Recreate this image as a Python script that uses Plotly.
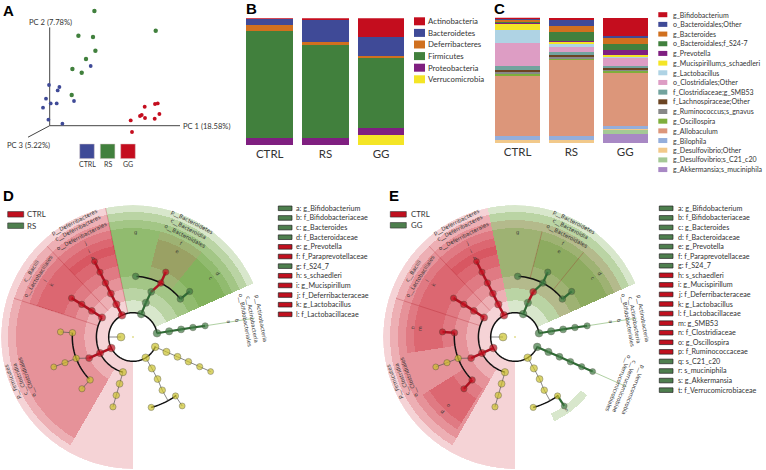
import numpy as np
import plotly.graph_objects as go

W, H = 766, 470
FONT = "Lato"
TREE_FONT = "DejaVu Sans"

# ---- panel A: PCoA scores
pc_labels = ["CTRL", "RS", "GG"]
ctrl_pc1 = [41, -0.7, 9.7, 8, -3.7, 24.3, 7, 1, -6.7, -1.3, 12.7]
ctrl_pc2 = [59.7, 40.7, 38.7, 35.3, 27, 24.7, 22.3, 22.3, 18, 6, 2]
rs_pc1 = [44.7, 106, 28.7, 43.3, 45.7, 36.3, 22.7, 32, 22]
rs_pc2 = [114.7, 95, 90, 88.7, 75, 66.7, 56.7, 53, 30.7]
gg_pc1 = [95, 105.3, 108, 109.7, 92, 90.3, 95.3, 105, 81, 82.3]
gg_pc2 = [19, 21.7, 22.3, 11.7, 10.7, 9.7, 7.7, 7, 5.3, -6.3]
pc1_x = [0, 130.3]
pc1_y = [0, 0]
pc2_x = [0, 0]
pc2_y = [0, 98.3]
pc3_x = [0, -21.7]
pc3_y = [0, -11.5]

# ---- panel B: phyla, %
groups = ["CTRL", "RS", "GG"]
b_names = ["Actinobacteria", "Bacteroidetes", "Deferribacteres", "Firmicutes", "Proteobacteria", "Verrucomicrobia"]
b_colors = ["#c40d1e", "#3f4a97", "#d0701f", "#41803d", "#7f1f80", "#f4e526"]
b_actino = [0.3, 1.3, 15]
b_bacteroidetes = [4.7, 17.4, 14.5]
b_deferri = [5, 2.4, 1.8]
b_firmicutes = [84.5, 73.4, 55]
b_proteo = [5.5, 5.5, 5.5]
b_verruco = [0, 0, 8.2]
b_values = [b_actino, b_bacteroidetes, b_deferri, b_firmicutes, b_proteo, b_verruco]

# ---- panel C: genera, %
c_names = ["g_Bifidobacterium", "o_Bacteroidales;Other", "g_Bacteroides", "o_Bacteroidales;f_S24-7",
           "g_Prevotella", "g_Mucispirillum;s_schaedleri", "g_Lactobacillus", "o_Clostridiales;Other",
           "f_Clostridiaceae;g_SMB53", "f_Lachnospiraceae;Other", "g_Ruminococcus;s_gnavus", "g_Oscillospira",
           "g_Allobaculum", "g_Bilophila", "g_Desulfovibrio;Other", "g_Desulfovibrio;s_C21_c20",
           "g_Akkermansia;s_muciniphila"]
c_colors = ["#c40d1e", "#3f4a97", "#d0701f", "#41803d", "#7f1f80", "#f4e526", "#afd3e4", "#dd9dc4", "#72a39e",
            "#6b4423", "#888888", "#7fae3c", "#dc967a", "#94aedb", "#f2c98a", "#a4c995", "#a888c4"]
c_bifido = [0.3, 1.1, 14.9]
c_bact_other = [1.9, 5.8, 0.3]
c_bacteroides = [0.8, 4.2, 5.6]
c_s24 = [0.5, 7.2, 5.3]
c_prevotella = [1.1, 0.3, 3.2]
c_mucispirillum = [5.6, 2.7, 1]
c_lactobacillus = [9.8, 1.3, 1.6]
c_clost_other = [18.3, 4.5, 6.6]
c_smb53 = [3.4, 2.7, 0.8]
c_lachno = [1.9, 1.9, 2.1]
c_gnavus = [0.5, 0.5, 0.8]
c_oscillospira = [2.7, 1.1, 1.1]
c_allobaculum = [47.5, 61, 42.7]
c_bilophila = [3.4, 2.9, 2.4]
c_desulf_other = [2.4, 2.9, 0.5]
c_c21 = [0, 0, 3.4]
c_akkermansia = [0, 0, 7.7]
c_values = [c_bifido, c_bact_other, c_bacteroides, c_s24, c_prevotella, c_mucispirillum, c_lactobacillus,
            c_clost_other, c_smb53, c_lachno, c_gnavus, c_oscillospira, c_allobaculum, c_bilophila,
            c_desulf_other, c_c21, c_akkermansia]

# ---- panels D, E: cladogram branches as (radius, angle)
root_branch = [(12, 180)]
deferri_branch = [(24.3, 117), (36.6, 117), (48.7, 117), (60.7, 117), (72.7, 117), (84.7, 117)]
bacilli_branch = [(36.6, 147.8), (48.7, 147.6), (60.7, 147.5), (72.7, 147.7)]
clost_stem = [(24.3, 207), (36.6, 206), (48.7, 205.7)]
clost_fam_a = [(60.7, 176), (72.7, 176)]
clost_fam_b = [(48.7, 205.7), (60.7, 200.6), (72.7, 200.7), (84.7, 200.7)]
clost_fam_c = [(60.7, 225), (72.7, 225.4)]
mollic_branch = [(36.6, 254), (48.7, 254), (60.7, 254), (72.7, 254)]
bact_stem = [(24.3, 70.3), (36.6, 69.4), (48.7, 68), (60.7, 62.7), (72.7, 63.2)]
s24_branch = [(60.7, 87.5)]
bacteroides_branch = [(60.7, 38.7), (72.7, 38.8)]
actino_branch = [(24.3, 8.8), (36.6, 9), (48.7, 9), (60.7, 9), (73, 8.8)]
verruco_branch = [(24.3, -24), (36.6, -24), (48.7, -24), (60.7, -24), (73, -24), (85, -24)]
proteo_stem = [(24.3, 301.5), (36.6, 301), (48.7, 300.3), (60.7, 298.8), (72.7, 298.8)]
proteo_a = [(72.7, 284.5)]
proteo_b = [(72.7, 305.8), (84.7, 305.5)]
branches = [root_branch, deferri_branch, bacilli_branch, clost_stem, clost_fam_a, clost_fam_b, clost_fam_c,
            mollic_branch, bact_stem, s24_branch, bacteroides_branch, actino_branch, verruco_branch,
            proteo_stem, proteo_a, proteo_b]
# node colours per branch: r red, g green, y yellow, n no node
d_nodes = ["y", "rrrrrr", "rrrr", "rrr", "yy", "nyyy", "yy", "yyyy", "gggrr", "g", "gg", "ggggg", "yyyyyy",
           "yyyyn", "y", "yy"]
e_nodes = ["y", "rrrrrr", "rrrr", "rrr", "rr", "nyyy", "rr", "yyyy", "ggrgg", "g", "gg", "ggggg", "gggggg",
           "yyyyn", "y", "yg"]
tree_arcs = [(24.3, 8.8, 336), (36.6, 147.8, 254), (60.7, 38.7, 87.5), (60.7, 176, 225), (72.7, 284.5, 305.8)]

d_red_wedges = [(24.3, 132, 102, 133.4), (36.6, 125, 102, 133.4), (48.7, 117, 102, 133.4),
                (60.7, 109, 102, 133.4), (72.7, 101, 102, 133.4), (84.7, 93, 102, 133.4),
                (24.3, 132, 133.4, 270), (36.6, 125, 133.4, 162), (48.7, 117, 133.4, 162),
                (60.7, 109, 133.4, 162), (72.7, 101, 133.4, 162), (36.6, 125, 162, 240), (48.7, 117, 162, 240),
                (60.7, 109, 51, 75.6), (72.7, 101, 51, 75.6)]
d_green_wedges = [(24.3, 132, 24, 102), (36.6, 125, 24, 102), (48.7, 117, 24, 102), (60.7, 109, 75.6, 102),
                  (60.7, 109, 24, 51), (72.7, 101, 24, 51)]
e_red_wedges = [(24.3, 132, 102, 133.4), (36.6, 125, 102, 133.4), (48.7, 117, 102, 133.4),
                (60.7, 109, 102, 133.4), (72.7, 101, 102, 133.4), (84.7, 93, 102, 133.4),
                (24.3, 132, 133.4, 270), (36.6, 125, 133.4, 162), (48.7, 117, 133.4, 162),
                (60.7, 109, 133.4, 162), (72.7, 101, 133.4, 162), (36.6, 125, 162, 240), (48.7, 117, 162, 240),
                (60.7, 109, 162, 188.5), (72.7, 101, 162, 188.5), (60.7, 109, 212, 238), (72.7, 101, 212, 238),
                (48.7, 117, 24, 102)]
e_green_wedges = [(24.3, 132, 24, 102), (36.6, 125, 24, 102), (60.7, 109, 75.6, 102), (60.7, 109, 51, 75.6),
                  (72.7, 101, 51, 75.6), (60.7, 109, 24, 51), (72.7, 101, 24, 51), (84.7, 93, 295, 321)]
d_splits = [(133.4, 36, 125), (162, 36, 125), (102, 24, 132)]
e_splits = [(133.4, 36, 125), (162, 36, 125), (75.6, 60, 109), (51, 60, 109)]

arc_titles = [("p__Deferribacteres", 129, 117), ("c__Deferribacteres", 121.5, 117), ("o__Deferribacterales", 113, 117),
              ("c__Bacilli", 120.5, 147.3), ("o__Lactobacillales", 112.5, 147.3), ("p__Firmicutes", 128, 200.5),
              ("c__Clostridia", 120.5, 200.5), ("o__Clostridiales", 113, 200.5), ("p__Bacteroidetes", 129, 62.8),
              ("c__Bacteroidia", 121.5, 62.7), ("o__Bacteroidales", 113, 62.5)]
d_letters = [("a", 97, 8.8), ("b", 106, 8.9), ("c", 97.4, 37), ("d", 105.7, 37), ("e", 97, 63), ("f", 105, 63),
             ("g", 105, 88.5), ("h", 89, 117), ("i", 97, 117), ("j", 105, 117), ("k", 97, 147.5), ("l", 105, 147.5)]
e_letters = d_letters + [("m", 96, 175), ("n", 103, 175), ("o", 96, 226), ("p", 104.7, 226), ("s", 90, 305)]

d_legend = ["a: g_Bifidobacterium", "b: f_Bifidobacteriaceae", "c: g_Bacteroides", "d: f_Bacteroidaceae",
            "e: g_Prevotella", "f: f_Paraprevotellaceae", "g: f_S24_7", "h: s_schaedleri", "i: g_Mucispirillum",
            "j: f_Deferribacteraceae", "k: g_Lactobacillus", "l: f_Lactobacillaceae"]
d_legend_colors = "ggggrrgrrrrr"
e_legend = d_legend[:12] + ["m: g_SMB53", "n: f_Clostridiaceae", "o: g_Oscillospira", "p: f_Ruminococcaceae",
                            "q: s_C21_c20", "r: s_muciniphila", "s: g_Akkermansia", "t: f_Verrucomicrobiaceae"]
e_legend_colors = "gggggggrrrrrrrrrgggg"

NODE_COLORS = {"r": "#c4101f", "g": "#3f7a43", "y": "#cbc22c"}
EDGE_STYLE = {"r": ("#b01020", 2.5), "g": ("#2f6b35", 2.2), "y": ("#555555", 0.7)}
SWATCH = {"r": "#c0101f", "g": "#4e7f4e"}
WEDGE_RED = "rgba(200,20,35,0.19)"
WEDGE_GREEN = "rgba(85,150,35,0.23)"

fig = go.Figure()
annotations = []
shapes = []


def text(x, y, s, size, anchor="left", angle=0, color="#333333", family=FONT, bold=False):
    annotations.append(dict(x=x / W, y=1 - y / H, xref="paper", yref="paper", text=f"<b>{s}</b>" if bold else s,
                            showarrow=False, xanchor=anchor, yanchor="middle", textangle=angle,
                            font=dict(size=size, color=color, family=family), borderpad=0, borderwidth=0))


def swatch(x0, x1, yc, h, fill, line="rgba(0,0,0,0)", lw=0):
    shapes.append(dict(type="rect", xref="paper", yref="paper", x0=x0 / W, x1=x1 / W,
                       y0=1 - (yc + h / 2) / H, y1=1 - (yc - h / 2) / H, fillcolor=fill,
                       line=dict(color=line, width=lw)))


def x_dom(a, b):
    return [a / W, b / W]


def y_dom(top, bottom):
    return [1 - bottom / H, 1 - top / H]


# panel A: axes are hidden and drawn as lines so points can sit past the origin
for xs, ys in [(pc1_x, pc1_y), (pc2_x, pc2_y), (pc3_x, pc3_y)]:
    fig.add_trace(go.Scatter(x=xs, y=ys, mode="lines", showlegend=False, hoverinfo="skip",
                             line=dict(color="#444444", width=1), xaxis="x", yaxis="y"))
for xs, ys, col, sz in [(rs_pc1, rs_pc2, "#41803d", 4.4), (ctrl_pc1, ctrl_pc2, "#3f4a97", 3.8),
                        (gg_pc1, gg_pc2, "#c40d1e", 3.9)]:
    fig.add_trace(go.Scatter(x=xs, y=ys, mode="markers", showlegend=False, hoverinfo="skip",
                             marker=dict(color=col, size=sz), xaxis="x", yaxis="y"))
text(50.7, 21.7, "PC 2 (7.78%)", 7.6, "center")
text(183, 126, "PC 1 (18.58%)", 7.6)
text(28.5, 145, "PC 3 (5.22%)", 7.6, "center")
for lab, x0, col in zip(pc_labels, [79.7, 100.3, 120.7], ["#3f4a97", "#41803d", "#c40d1e"]):
    swatch(x0, x0 + 14.6, 151.3, 14.6, col, "#d8c8c8", 0.5)
    text(x0 + 7.3, 164, lab, 7, "center")

# panels B and C, stacked from the bottom up
for names, colors, values, ax in [(b_names, b_colors, b_values, "2"), (c_names, c_colors, c_values, "3")]:
    for name, col, vals in reversed(list(zip(names, colors, values))):
        fig.add_trace(go.Bar(x=groups, y=vals, name=name, marker=dict(color=col, line=dict(width=0)),
                             showlegend=False, hoverinfo="skip", xaxis="x" + ax, yaxis="y" + ax))

for i, (name, col) in enumerate(zip(b_names, b_colors)):
    yc = 21.3 + i * 11.6
    swatch(414, 425, yc, 8, col)
    text(428, yc, name, 7.8)
for i, (name, col) in enumerate(zip(c_names, c_colors)):
    yc = 14.7 + i * 9.68
    swatch(658.3, 667.3, yc, 5, col)
    text(673.3, yc, name, 7)


# panels D and E
def draw_tree(polar, cx, node_cols, red, green, splits, letters, tail):
    for wedges, col in [(red, WEDGE_RED), (green, WEDGE_GREEN)]:
        fig.add_trace(go.Barpolar(r=[w[1] - w[0] for w in wedges], base=[w[0] for w in wedges],
                                  theta=[(w[2] + w[3]) / 2 for w in wedges], width=[w[3] - w[2] for w in wedges],
                                  marker=dict(color=col, line=dict(width=0)), subplot=polar, showlegend=False,
                                  hoverinfo="skip"))
    for ang, r0, r1 in splits:
        fig.add_trace(go.Scatterpolar(r=[r0, r1], theta=[ang, ang], mode="lines", subplot=polar, showlegend=False,
                                      hoverinfo="skip", line=dict(color="rgba(170,20,30,0.45)", width=0.6)))
    # thin line running out to the lettered labels
    for pts, col in tail:
        fig.add_trace(go.Scatterpolar(r=[p[0] for p in pts], theta=[p[1] for p in pts], mode="lines", subplot=polar,
                                      showlegend=False, hoverinfo="skip", line=dict(color=col, width=0.8)))
    fig.add_trace(go.Scatterpolar(r=[12, 24.3], theta=[180, 180], mode="lines", subplot=polar, showlegend=False,
                                  hoverinfo="skip", line=dict(color="#555555", width=0.7)))
    for r, a0, a1 in tree_arcs:
        th = np.arange(a0, a1 + 1, 2.0)
        fig.add_trace(go.Scatterpolar(r=[r] * len(th), theta=th, mode="lines", subplot=polar, showlegend=False,
                                      hoverinfo="skip", line=dict(color="#111111", width=1.5)))
    for pts, cols in zip(branches, node_cols):
        for p, q, c in zip(pts[:-1], pts[1:], cols[1:]):
            style = EDGE_STYLE["y" if c == "n" else c]
            fig.add_trace(go.Scatterpolar(r=[p[0], q[0]], theta=[p[1], q[1]], mode="lines", subplot=polar,
                                          showlegend=False, hoverinfo="skip",
                                          line=dict(color=style[0], width=style[1])))
    for key in "ygr":
        rr, tt, ss = [], [], []
        for pts, cols in zip(branches, node_cols):
            for p, c in zip(pts, cols):
                if c == key:
                    rr.append(p[0])
                    tt.append(p[1])
                    ss.append(8.2 - p[0] * 0.027)
        fig.add_trace(go.Scatterpolar(r=rr, theta=tt, mode="markers", subplot=polar, showlegend=False,
                                      hoverinfo="skip",
                                      marker=dict(color=NODE_COLORS[key], size=ss,
                                                  line=dict(color="#3a3a2a", width=0.5))))
    fig.add_trace(go.Scatterpolar(r=[0], theta=[0], mode="markers", subplot=polar, showlegend=False,
                                  hoverinfo="skip", marker=dict(color="#c9c02f", size=1.5)))
    for s, r, ang in arc_titles:
        t = np.radians(ang)
        text(cx + r * np.cos(t), 337 - r * np.sin(t), s, 5.4, "center", 90 - ang, family=TREE_FONT)
    for s, r, ang in letters:
        t = np.radians(ang)
        text(cx + r * np.cos(t), 337 - r * np.sin(t), s, 5, "center", 90 - ang, family=TREE_FONT)


draw_tree("polar", 133, d_nodes, d_red_wedges, d_green_wedges, d_splits, d_letters,
          [([(73, 8.8), (123, 8.8)], "#9cc48c")])
draw_tree("polar2", 515, e_nodes, e_red_wedges, e_green_wedges, e_splits, e_letters,
          [([(73, 8.8), (123, 8.8)], "#9cc48c"), ([(85, -24), (122, -24)], "#9cc48c")])

# actinobacteria / verrucomicrobia labels stand away from the wedges
for s, x, y in [("p__Actinobacteria", 260.7, 318.3), ("c__Actinobacteria", 252.3, 319),
                ("o__Bifidobacteriales", 245, 320.3), ("p__Actinobacteria", 642.7, 318.3),
                ("c__Actinobacteria", 634.7, 320), ("o__Bifidobacteriales", 627.3, 320.7)]:
    text(x, y, s, 5.4, "center", 80, family=TREE_FONT)
for s, x, y in [("p__Verrucomicrobia", 633.3, 390), ("c__Verrucomicrobiae", 624.3, 387),
                ("o__Verrucomicrobiales", 618, 383.3)]:
    text(x, y, s, 5.4, "center", 112, family=TREE_FONT)

for labels, cols, x0, tx, step in [(d_legend, d_legend_colors, 278.3, 296, 9.64),
                                   (e_legend, e_legend_colors, 659.3, 678.3, 9.57)]:
    for i, (s, c) in enumerate(zip(labels, cols)):
        yc = 208.3 + i * step
        swatch(x0, x0 + 13.7, yc, 4.6, SWATCH[c], "#222222", 0.7)
        text(tx, yc, s, 7.2)

for sw, tx, second, yc2 in [(7.7, 26.7, "RS", 225.7), (390.3, 410.7, "GG", 225.3)]:
    swatch(sw, sw + 16, 214.3, 5.5, SWATCH["r"], "#333333", 0.6)
    swatch(sw, sw + 16, yc2, 5.5, SWATCH["g"], "#333333", 0.6)
    text(tx, 214.3, "CTRL", 7.8)
    text(tx, yc2, second, 7.8)

for s, x, y in [("A", 2.5, 10), ("B", 246, 8.5), ("C", 493.5, 9), ("D", 2.5, 195.7), ("E", 388.5, 195.7)]:
    text(x, y, s, 15, color="#000000", family="Liberation Sans", bold=True)

hidden = dict(visible=False, fixedrange=True)
polar_style = dict(bgcolor="rgba(0,0,0,0)", barmode="overlay",
                   radialaxis=dict(visible=False, range=[0, 132]),
                   angularaxis=dict(visible=False, rotation=0, direction="counterclockwise"))
fig.update_layout(
    width=W, height=H, margin=dict(l=0, r=0, t=0, b=0), autosize=False,
    paper_bgcolor="white", plot_bgcolor="rgba(0,0,0,0)", showlegend=False, barmode="stack",
    xaxis=dict(hidden, domain=x_dom(19.7, 189.7), range=[-30, 140]),
    yaxis=dict(hidden, domain=y_dom(0.7, 150.7), range=[-25, 125]),
    xaxis2=dict(domain=x_dom(241.9, 408.9), anchor="y2", showgrid=False, zeroline=False, showline=False,
                tickfont=dict(family=FONT, size=11.5, color="#333333"), ticks="", type="category"),
    yaxis2=dict(hidden, domain=y_dom(18.3, 145), anchor="x2", range=[0, 100]),
    xaxis3=dict(domain=x_dom(490.6, 652.1), anchor="y3", showgrid=False, zeroline=False, showline=False,
                tickfont=dict(family=FONT, size=11.5, color="#333333"), ticks="", type="category"),
    yaxis3=dict(hidden, domain=y_dom(17.7, 143.3), anchor="x3", range=[0, 100]),
    polar=dict(polar_style, domain=dict(x=x_dom(1, 265), y=y_dom(205, 469))),
    polar2=dict(polar_style, domain=dict(x=x_dom(383, 647), y=y_dom(205, 469))),
    bargap=0.16,
    annotations=annotations,
    shapes=shapes,
)

fig.write_html("out.html", config=dict(displayModeBar=False), post_script="document.body.style.margin='0';")
